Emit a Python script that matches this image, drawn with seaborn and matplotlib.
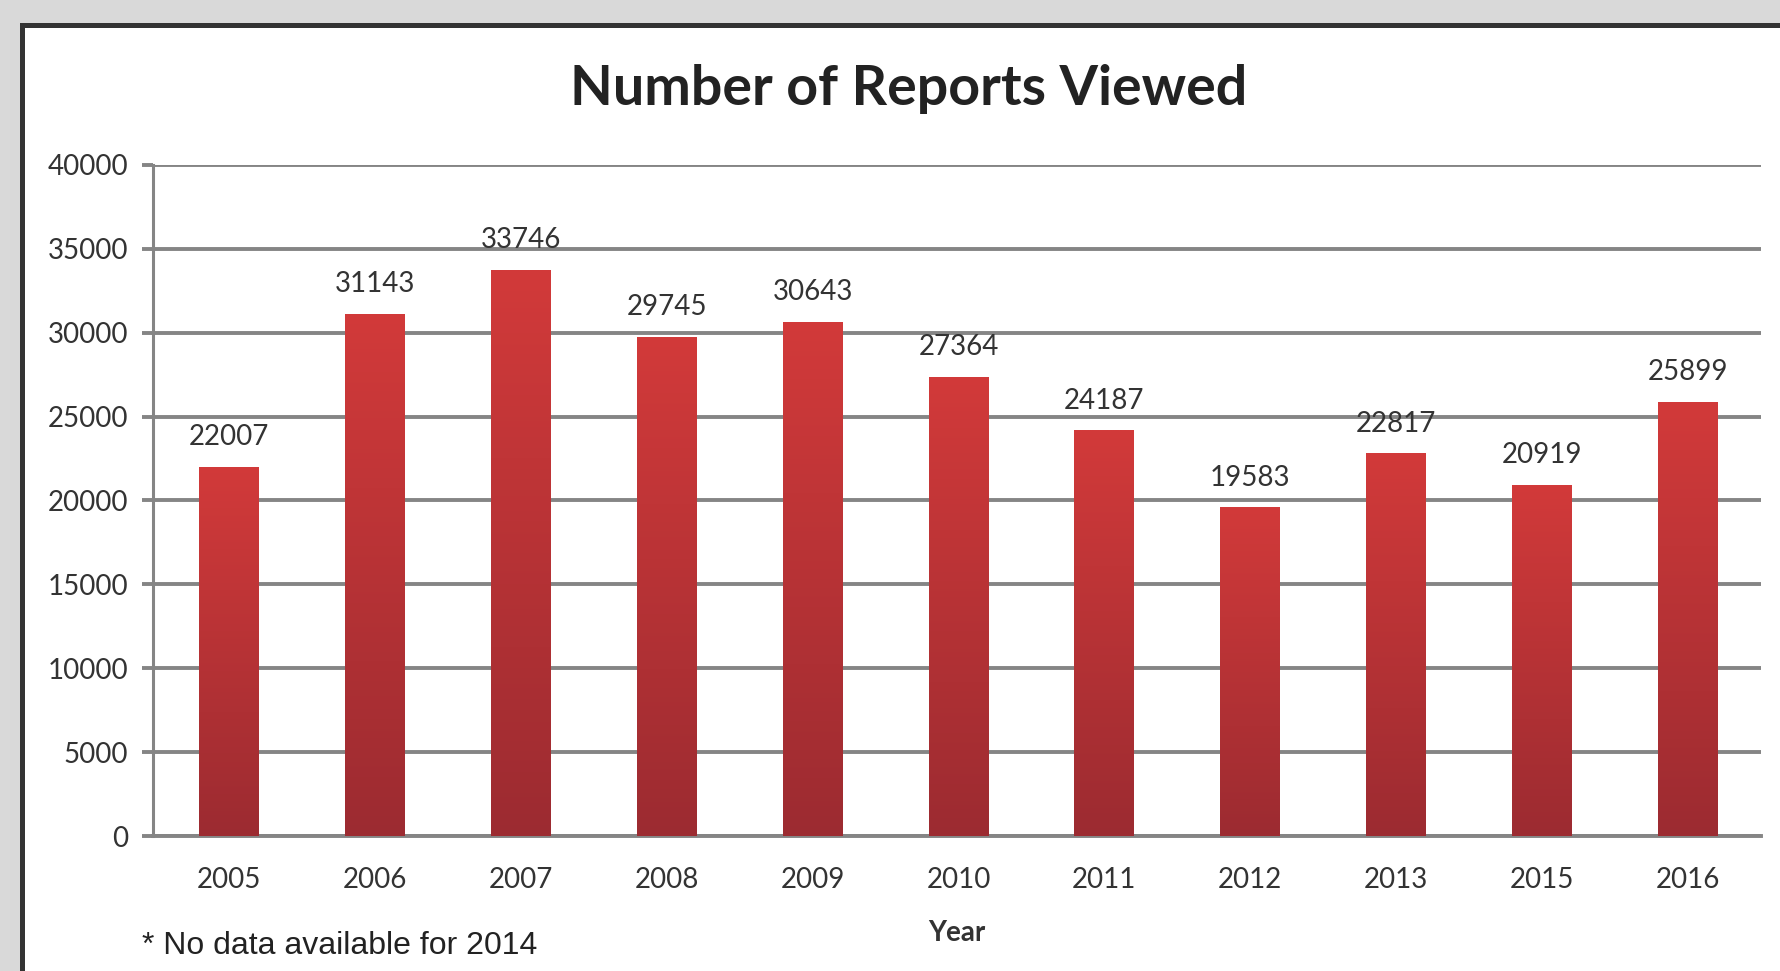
import numpy as np
import pandas as pd
import matplotlib
matplotlib.use("Agg")
import matplotlib.pyplot as plt
from matplotlib.patches import Rectangle
from matplotlib.colors import LinearSegmentedColormap
import seaborn as sns

years = ["2005", "2006", "2007", "2008", "2009", "2010", "2011", "2012", "2013", "2015", "2016"]
reports = [22007, 31143, 33746, 29745, 30643, 27364, 24187, 19583, 22817, 20919, 25899]
yticks = [0, 5000, 10000, 15000, 20000, 25000, 30000, 35000, 40000]

sns.set_theme(style="white")
plt.rcParams["font.family"] = ["Lato", "DejaVu Sans"]

W, H = 1781, 971
fig = plt.figure(figsize=(W / 100, H / 100), dpi=100, facecolor="#d9d9d9")

# white panel with dark frame
frame = Rectangle((22 / W, -0.2), 2.0, 1 - 25 / H + 0.2, transform=fig.transFigure,
                  facecolor="white", edgecolor="#333333", linewidth=3.6, zorder=-10)
fig.patches.append(frame)

ax = fig.add_axes([153 / W, 1 - 836 / H, (1761 - 153) / W, (836 - 165) / H])
ax.set_zorder(5)
ax.set_facecolor("none")

df = pd.DataFrame({"Year": years, "Reports": reports})
sns.barplot(data=df, x="Year", y="Reports", order=years, color="#bf3236",
            width=0.41, ax=ax, zorder=3, linewidth=0)

cmap = LinearSegmentedColormap.from_list("redgrad", ["#9c2b31", "#d23a3a"])
grad = np.linspace(0, 1, 256).reshape(-1, 1)
for p in ax.patches:
    x0, w, h = p.get_x(), p.get_width(), p.get_height()
    im = ax.imshow(grad, extent=[x0, x0 + w, 0, h], origin="lower", aspect="auto",
                   cmap=cmap, zorder=4)
    im.set_clip_path(p)
    ax.annotate(f"{int(h)}", (x0 + w / 2, h), xytext=(0, 12), textcoords="offset points",
                ha="center", va="bottom", fontsize=20, color="#333333", zorder=5)

ax.set_xlim(-0.52, 10.5)
ax.set_ylim(0, 40000)
ax.set_yticks(yticks)
ax.set_yticklabels([str(v) for v in yticks])

gc = "#858585"
ax.yaxis.grid(True, color=gc, linewidth=2.8, zorder=1)
ax.set_axisbelow(True)
for s in ["top", "right"]:
    ax.spines[s].set_visible(False)
ax.spines["left"].set_color(gc)
ax.spines["left"].set_linewidth(2.2)
ax.spines["bottom"].set_color(gc)
ax.spines["bottom"].set_linewidth(2.8)

ax.tick_params(axis="y", length=8, width=2.8, color=gc, pad=10,
               labelsize=20, labelcolor="#333333", left=True)
ax.tick_params(axis="x", length=0, pad=22, labelsize=20, labelcolor="#333333")

ax.set_ylabel("")
ax.set_xlabel("Year", fontsize=20, fontweight="bold", color="#333333", labelpad=20)

fig.text(909 / W, 1 - 89 / H, "Number of Reports Viewed", ha="center", va="center",
         fontsize=40, fontweight="bold", color="#222222")
fig.text(142 / W, 1 - 946 / H, "* No data available for 2014", ha="left", va="center",
         fontsize=23, color="#222222", family=["Liberation Sans", "DejaVu Sans"])

fig.savefig("out.png", dpi=100, facecolor=fig.get_facecolor())
